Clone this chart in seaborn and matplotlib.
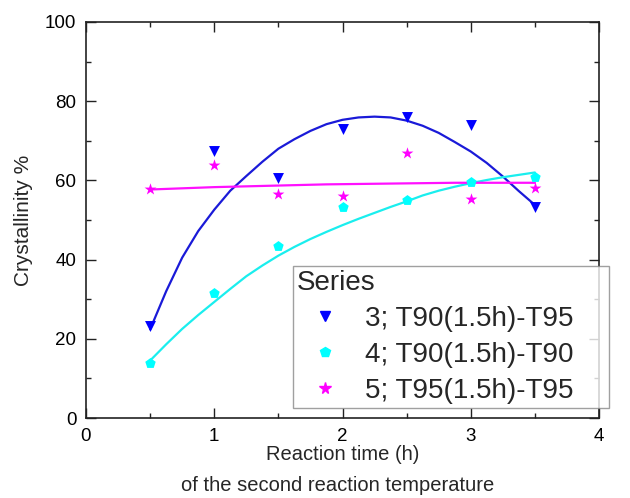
import numpy as np
import pandas as pd
import matplotlib
matplotlib.use("Agg")
import matplotlib.pyplot as plt
import seaborn as sns
from matplotlib.lines import Line2D

sns.set_theme(style="white")
plt.rcParams['font.family'] = ['Liberation Sans', 'DejaVu Sans']

# ---- data ----
time_h = [0.5, 1.0, 1.5, 2.0, 2.5, 3.0, 3.5]
s3_vals = [23.2, 67.4, 60.7, 73.1, 75.9, 74.0, 53.4]   # 3; T90(1.5h)-T95
s4_vals = [13.9, 31.6, 43.5, 53.4, 55.1, 59.5, 60.9]   # 4; T90(1.5h)-T90
s5_vals = [57.8, 63.9, 56.6, 56.1, 67.0, 55.2, 58.0]   # 5; T95(1.5h)-T95

# fitted curves as drawn in the reference
fit_x = [0.5, 0.625, 0.75, 0.875, 1.0, 1.125, 1.25, 1.375, 1.5, 1.625, 1.75, 1.875,
         2.0, 2.125, 2.25, 2.375, 2.5, 2.625, 2.75, 2.875, 3.0, 3.125, 3.25, 3.375, 3.5]
fit3 = [22.4, 32.0, 40.5, 47.2, 52.6, 57.4, 61.1, 64.7, 68.0, 70.4, 72.5, 74.2,
        75.3, 75.9, 76.1, 75.9, 75.1, 73.8, 72.0, 69.7, 67.3, 64.4, 61.0, 57.3, 53.8]
fit4 = [14.5, 18.6, 22.5, 26.0, 29.3, 32.6, 35.8, 38.5, 41.0, 43.2, 45.2, 47.0,
        48.7, 50.3, 51.8, 53.3, 54.7, 56.2, 57.4, 58.4, 59.3, 60.1, 60.8, 61.4, 62.0]
fit5 = [57.7, 57.85, 58.0, 58.15, 58.3, 58.4, 58.5, 58.6, 58.7, 58.8, 58.9, 59.0,
        59.05, 59.1, 59.15, 59.2, 59.25, 59.3, 59.35, 59.4, 59.4, 59.4, 59.4, 59.4, 59.4]

series_labels = ["3; T90(1.5h)-T95", "4; T90(1.5h)-T90", "5; T95(1.5h)-T95"]
x_ticks = [0, 1, 2, 3, 4]
y_ticks = [0, 20, 40, 60, 80, 100]
x_label = "Reaction time (h)"
y_label = "Crystallinity %"
sub_label = "of the second reaction temperature"
legend_title = "Series"

colors = ["#0000FF", "#00FFFF", "#FF00FF"]
line_colors = ["#1a1ad8", "#1aeeee", "#ff10ff"]
markers = ["v", "p", "*"]
msizes = [62, 62, 80]

fig = plt.figure(figsize=(6.30, 4.98), dpi=100)
ax = fig.add_axes([86/630, 1-418/498, 513/630, 396/498])

vals = [s3_vals, s4_vals, s5_vals]
fits = [fit3, fit4, fit5]
handles = []
for lab, v, f, c, lc, m, ms in zip(series_labels, vals, fits, colors, line_colors, markers, msizes):
    dfl = pd.DataFrame({"x": fit_x, "y": f})
    sns.lineplot(data=dfl, x="x", y="y", ax=ax, color=lc, lw=1.6, legend=False, sort=False)
    dfp = pd.DataFrame({"x": time_h, "y": v})
    sns.scatterplot(data=dfp, x="x", y="y", ax=ax, color=c, marker=m, s=ms,
                    edgecolor=c, linewidth=0, legend=False, zorder=3)
    handles.append(Line2D([], [], ls="none", marker=m, color=c, markeredgecolor=c,
                          markersize=np.sqrt(ms) * 0.95, label=lab))

ax.set_xlim(0, 4)
ax.set_ylim(0, 100)
ax.set_xticks(x_ticks)
ax.set_yticks(y_ticks)
ax.set_xticks([0.5, 1.5, 2.5, 3.5], minor=True)
ax.set_yticks([10, 30, 50, 70, 90], minor=True)
ax.tick_params(which="both", direction="in", top=True, right=True, bottom=True, left=True,
               colors="#222222", labelcolor="black")
ax.tick_params(which="major", length=7, width=1.0, labelsize=13.5, pad=7)
ax.tick_params(which="minor", length=3.5, width=1.0)
for sp in ax.spines.values():
    sp.set_color("#222222")
    sp.set_linewidth(1.2)

ax.set_xlabel(x_label, fontsize=14.5)
ax.set_ylabel(y_label, fontsize=15)
ax.xaxis.set_label_coords(0.5, -0.068)
ax.yaxis.set_label_coords(-0.103, 0.5)
fig.text(337.5/630, 1-485/498, sub_label, ha="center", va="center", fontsize=14.5)

leg = ax.legend(handles=handles, title=legend_title, loc="upper left",
                bbox_to_anchor=(293/630, 1-408/498, 316/630, 142/498),
                bbox_transform=fig.transFigure, mode="expand",
                fontsize=20, title_fontsize=20, alignment="left",
                frameon=True, fancybox=False, borderpad=0.15, borderaxespad=0,
                handlelength=2.0, handletextpad=0.45, labelspacing=0.36)
leg.get_frame().set_edgecolor("#888888")
leg.get_frame().set_linewidth(1.0)

fig.savefig("out.png", dpi=100, facecolor="white")
